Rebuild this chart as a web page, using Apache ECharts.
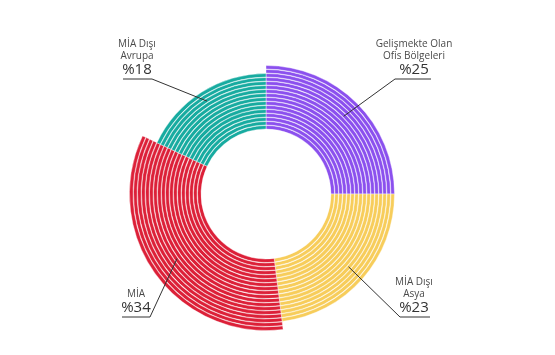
<!DOCTYPE html>
<html><head><meta charset="utf-8">
<script src="https://cdn.jsdelivr.net/npm/echarts@6/dist/echarts.min.js"></script>
<style>html,body{margin:0;padding:0;background:#fff}#c{width:555px;height:355px}</style>
</head><body><div id="c"></div>
<script>
// ---- data ----
const categories = ['Gelişmekte Olan\nOfis Bölgeleri', 'MİA Dışı\nAsya', 'MİA', 'MİA Dışı\nAvrupa'];
const shares = [25, 23, 34, 18];
const valueLabels = ['%25', '%23', '%34', '%18'];
const colors = ['#8B50EE', '#F7CD5B', '#DC2038', '#17ABA0'];

// ---- layout / style ----
const CENTER = [266, 194];
const INNER = 65, PITCH = 4, BAND = 3.5;
const outerOf = v => 105 + v;          // segment outer radius grows with its share
const maxOuter = Math.max(...shares.map(outerOf));

const series = [];
for (let r = INNER; r + BAND <= maxOuter + 0.5; r += PITCH) {
  series.push({
    type: 'pie', center: CENTER, radius: [r, r + BAND], startAngle: 90, clockwise: true,
    silent: true, animation: false, label: { show: false }, labelLine: { show: false },
    emphasis: { disabled: true },
    data: shares.map((v, i) => {
      const on = r + BAND <= outerOf(v) + 0.5;
      return { name: categories[i], value: v,
        itemStyle: { color: on ? colors[i] : 'rgba(0,0,0,0)', borderColor: '#fff', borderWidth: on ? 0.4 : 0 } };
    })
  });
}

const labelAnchors = [
  { x: 414, y: 78, ux: [395, 431] },
  { x: 414, y: 316, ux: [400, 430] },
  { x: 136, y: 316, ux: [150, 122] },
  { x: 137, y: 78, ux: [152, 123] }
];
const total = shares.reduce((a, b) => a + b, 0);
function midPoint(idx, rad) {
  let cum = 0; for (let k = 0; k < idx; k++) cum += shares[k];
  const ang = (90 - (cum + shares[idx] / 2) / total * 360) * Math.PI / 180;
  return [CENTER[0] + rad * Math.cos(ang), CENTER[1] - rad * Math.sin(ang)];
}

series.push({
  type: 'pie', center: CENTER, radius: [INNER, 110], startAngle: 90, clockwise: true,
  silent: true, animation: false, z: 10, emphasis: { disabled: true },
  itemStyle: { color: 'rgba(0,0,0,0)' },
  data: shares.map((v, i) => ({ name: categories[i], value: v })),
  label: {
    show: true, position: 'outside',
    formatter: p => categories[p.dataIndex].split('\n').map(s => '{n|' + s + '}').join('\n') + '\n{v|' + valueLabels[p.dataIndex] + '}',
    rich: {
      n: { fontFamily: 'Open Sans', fontSize: 10, color: '#4a4a4a', lineHeight: 12, align: 'center' },
      v: { fontFamily: 'Open Sans', fontSize: 15, color: '#333', lineHeight: 16, align: 'center' }
    }
  },
  labelLine: { show: true, lineStyle: { color: '#333', width: 1 } },
  labelLayout: function (p) {
    const a = labelAnchors[p.dataIndex];
    const p0 = midPoint(p.dataIndex, 110);
    return { x: a.x, y: a.y, align: 'center', verticalAlign: 'bottom',
      labelLinePoints: [p0, [a.ux[0], a.y + 1], [a.ux[1], a.y + 1]] };
  }
});

const chart = echarts.init(document.getElementById('c'), null, { renderer: 'canvas' });
chart.setOption({ backgroundColor: '#fff', animation: false, series });
</script>
</body></html>
